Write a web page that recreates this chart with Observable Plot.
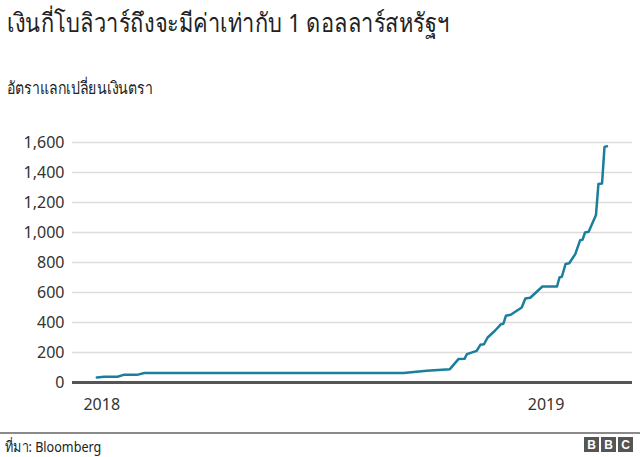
<!DOCTYPE html>
<html>
<head>
<meta charset="utf-8">
<script src="https://cdn.jsdelivr.net/npm/d3@7"></script>
<script src="https://cdn.jsdelivr.net/npm/@observablehq/plot@0.6"></script>
<style>
  html, body { margin: 0; padding: 0; background: #fff; }
  body { width: 640px; height: 457px; position: relative; overflow: hidden;
         font-family: "Noto Sans", "DejaVu Sans", "Liberation Sans", sans-serif; color: #222; }
  #title { position: absolute; left: 7px; top: 3px; font-size: 26px; line-height: 38px; color: #222; white-space: nowrap;
           transform: scaleX(0.84); transform-origin: left center; }
  #subtitle { position: absolute; left: 7px; top: 75px; font-size: 17px; line-height: 26px; color: #222; white-space: nowrap;
              transform: scaleX(0.83); transform-origin: left center; }
  #chart { position: absolute; left: 0; top: 100px; }
  #footline { position: absolute; left: 0; top: 432px; width: 640px; height: 2px; background: #8a8a8a; }
  #source { position: absolute; left: 5px; top: 436px; font-size: 15px; line-height: 20px; color: #222; white-space: nowrap;
            transform: scaleX(0.84); transform-origin: left center; }
  #bbc { position: absolute; left: 584px; top: 437px; display: flex; gap: 2px; }
  #bbc span { width: 15px; height: 15px; background: #555; color: #fff; font: bold 12px "Liberation Sans", sans-serif;
              display: flex; align-items: center; justify-content: center; }
</style>
</head>
<body>
<div id="title">เงินกี่โบลิวาร์ถึงจะมีค่าเท่ากับ 1 ดอลลาร์สหรัฐฯ</div>
<div id="subtitle">อัตราแลกเปลี่ยนเงินตรา</div>
<div id="chart"></div>
<div id="footline"></div>
<div id="source">ที่มา: Bloomberg</div>
<div id="bbc"><span>B</span><span>B</span><span>C</span></div>
<script>
const dates = [
  "2017-12-28","2018-01-03","2018-01-14","2018-01-19","2018-01-30","2018-02-05",
  "2018-06-30","2018-09-06","2018-09-25","2018-10-14","2018-10-21","2018-10-26",
  "2018-10-28","2018-11-05","2018-11-08","2018-11-11","2018-11-14","2018-11-20",
  "2018-11-25","2018-11-27","2018-11-29","2018-12-03","2018-12-12","2018-12-15",
  "2018-12-19","2018-12-29","2019-01-10","2019-01-12","2019-01-14","2019-01-17",
  "2019-01-20","2019-01-25","2019-01-29","2019-01-31","2019-02-02","2019-02-05",
  "2019-02-11","2019-02-13","2019-02-16","2019-02-18","2019-02-20"
];
const rates = [
  33, 38, 38, 51, 51, 63,
  63, 64, 78, 89, 156, 158,
  189, 211, 251, 255, 300, 345,
  389, 392, 445, 452, 500, 560,
  565, 640, 640, 700, 705, 790,
  795, 856, 949, 952, 1000, 1005,
  1116, 1323, 1327, 1571, 1575
];
const yTicks = [0, 200, 400, 600, 800, 1000, 1200, 1400, 1600];
const xTickLabels = ["2018", "2019"];

const parse = d3.utcParse("%Y-%m-%d");
const data = dates.map((d, i) => ({date: parse(d), rate: rates[i]}));
const xTicks = xTickLabels.map(y => parse(y + "-01-01"));

const chart = Plot.plot({
  width: 640,
  height: 320,
  marginLeft: 72,
  marginRight: 8,
  marginTop: 42,
  marginBottom: 38,
  style: {fontFamily: "'Noto Sans', 'DejaVu Sans', sans-serif", fontSize: "16px", color: "#333", background: "#fff"},
  x: {type: "utc", domain: [parse("2017-12-08"), parse("2019-03-13")], label: null},
  y: {domain: [0, 1600], label: null},
  marks: [
    Plot.ruleY(yTicks.filter(d => d > 0), {stroke: "#dcdcdc", strokeWidth: 1.5}),
    Plot.axisY({ticks: yTicks, tickSize: 0, tickPadding: 8, tickFormat: d3.format(","), fontSize: 16, fill: "#333", label: null}),
    Plot.axisX({ticks: xTicks, tickSize: 0, tickPadding: 16, tickFormat: d => d3.utcFormat("%Y")(d), fontSize: 16, fill: "#333", label: null}),
    Plot.ruleY([0], {stroke: "#555", strokeWidth: 3}),
    Plot.line(data, {x: "date", y: "rate", stroke: "#1a7f9c", strokeWidth: 2.5, curve: "linear"})
  ]
});
document.getElementById("chart").appendChild(chart);
</script>
</body>
</html>
